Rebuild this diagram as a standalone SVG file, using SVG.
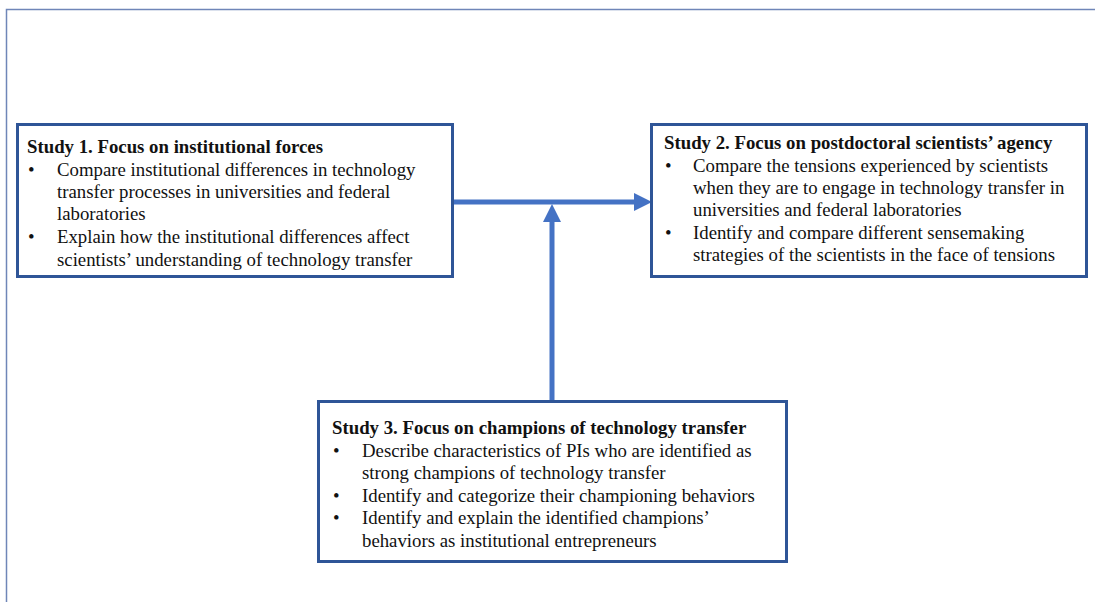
<svg xmlns="http://www.w3.org/2000/svg" width="1095" height="602" viewBox="0 0 1095 602">
<style>
.box{fill:#fff;stroke:#2F5597;stroke-width:3}
.t{font-family:"Liberation Serif","Times New Roman",serif;font-size:18.8px;fill:#111}
.b{font-weight:bold}
.conn{stroke:#4472C4;stroke-width:5;fill:none}
.head{fill:#4472C4}
</style>
<rect width="1095" height="602" fill="#fff"/>
<path d="M6.5 602 V9.5 H1095" fill="none" stroke="#6F86B8" stroke-width="1.5"/>
<g id="connectors">
<line class="conn" x1="453" y1="202" x2="636" y2="202"/>
<polygon class="head" points="634,193 652,202 634,211"/>
<line class="conn" x1="552" y1="401" x2="552" y2="220"/>
<polygon class="head" points="543,222 552,204 561,222"/>
</g>
<g id="study1">
<rect class="box" x="17.5" y="124.5" width="435" height="152"/>
<text class="t b" x="27" y="153">Study 1. Focus on institutional forces</text>
<text class="t" x="28" y="176">•</text><text class="t" x="57" y="176">Compare institutional differences in technology</text>
<text class="t" x="57" y="198">transfer processes in universities and federal</text>
<text class="t" x="57" y="220">laboratories</text>
<text class="t" x="28" y="243">•</text><text class="t" x="57" y="243">Explain how the institutional differences affect</text>
<text class="t" x="57" y="266">scientists’ understanding of technology transfer</text>
</g>
<g id="study2">
<rect class="box" x="651.5" y="124.5" width="435" height="152"/>
<text class="t b" x="664" y="149">Study 2. Focus on postdoctoral scientists’ agency</text>
<text class="t" x="665" y="172">•</text><text class="t" x="693" y="172">Compare the tensions experienced by scientists</text>
<text class="t" x="693" y="194">when they are to engage in technology transfer in</text>
<text class="t" x="693" y="216">universities and federal laboratories</text>
<text class="t" x="665" y="239">•</text><text class="t" x="693" y="239">Identify and compare different sensemaking</text>
<text class="t" x="693" y="261">strategies of the scientists in the face of tensions</text>
</g>
<g id="study3">
<rect class="box" x="318.5" y="401.5" width="468" height="160"/>
<text class="t b" x="332" y="434">Study 3. Focus on champions of technology transfer</text>
<text class="t" x="333" y="457">•</text><text class="t" x="362" y="457">Describe characteristics of PIs who are identified as</text>
<text class="t" x="362" y="479">strong champions of technology transfer</text>
<text class="t" x="333" y="502">•</text><text class="t" x="362" y="502">Identify and categorize their championing behaviors</text>
<text class="t" x="333" y="524">•</text><text class="t" x="362" y="524">Identify and explain the identified champions’</text>
<text class="t" x="362" y="547">behaviors as institutional entrepreneurs</text>
</g>
</svg>
